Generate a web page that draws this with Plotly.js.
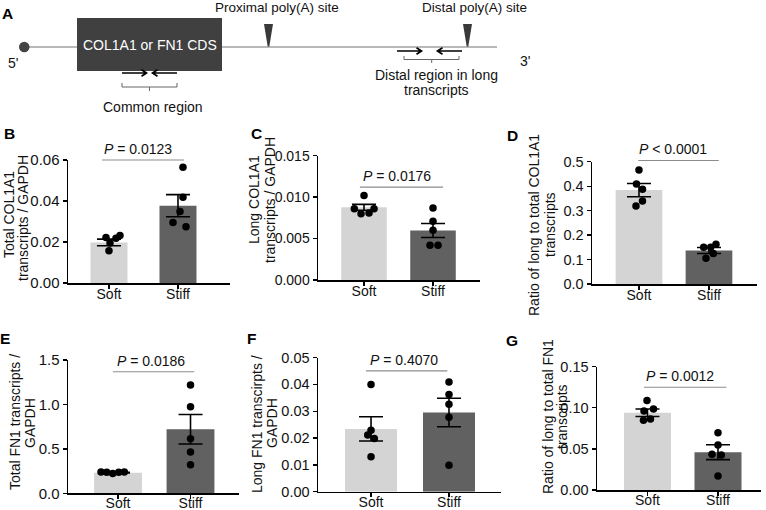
<!DOCTYPE html>
<html><head><meta charset="utf-8">
<script src="https://cdn.plot.ly/plotly-3.0.1.min.js"></script>
<style>html,body{margin:0;padding:0;background:#fff}#chart{width:766px;height:510px}</style>
</head><body><div id="chart"></div>
<script>
// ---------------- data ----------------
const groups = ['Soft', 'Stiff'];

const totalCol1a1Soft  = [0.0222, 0.0218, 0.0232, 0.0195, 0.0157];
const totalCol1a1Stiff = [0.0565, 0.0418, 0.0349, 0.0295, 0.0275];
const totalCol1a1Mean  = [0.0198, 0.0377];
const totalCol1a1Sem   = [0.0016, 0.0054];

const longCol1a1Soft  = [0.0102, 0.0086, 0.0086, 0.0080, 0.0081];
const longCol1a1Stiff = [0.0087, 0.0071, 0.0060, 0.0042, 0.0042];
const longCol1a1Mean  = [0.00877, 0.00597];
const longCol1a1Sem   = [0.00036, 0.00085];

const ratioCol1a1Soft  = [0.466, 0.409, 0.387, 0.339, 0.319];
const ratioCol1a1Stiff = [0.150, 0.150, 0.163, 0.125, 0.105];
const ratioCol1a1Mean  = [0.384, 0.137];
const ratioCol1a1Sem   = [0.027, 0.012];

const totalFn1Soft  = [0.240, 0.238, 0.224, 0.236, 0.240];
const totalFn1Stiff = [1.218, 0.975, 0.615, 0.465, 0.320];
const totalFn1Mean  = [0.232, 0.720];
const totalFn1Sem   = [0.004, 0.166];

const longFn1Soft  = [0.0399, 0.0229, 0.0211, 0.0198, 0.0130];
const longFn1Stiff = [0.0409, 0.0362, 0.0326, 0.0277, 0.0099];
const longFn1Mean  = [0.0234, 0.0295];
const longFn1Sem   = [0.0045, 0.0053];

const ratioFn1Soft  = [0.109, 0.0985, 0.096, 0.085, 0.0864];
const ratioFn1Stiff = [0.0697, 0.0547, 0.0434, 0.0426, 0.0170];
const ratioFn1Mean  = [0.094, 0.046];
const ratioFn1Sem   = [0.0045, 0.009];

const pValueLabels = ['= 0.0123', '= 0.0176', '< 0.0001', '= 0.0186', '= 0.4070', '= 0.0012'];
const panelLetters = ['B', 'C', 'D', 'E', 'F', 'G'];
const yTicksB = [0, 0.02, 0.04, 0.06];
const yTicksC = [0, 0.005, 0.010, 0.015];
const yTicksD = [0, 0.1, 0.2, 0.3, 0.4, 0.5];
const yTicksE = [0, 0.5, 1.0, 1.5];
const yTicksF = [0, 0.01, 0.02, 0.03, 0.04, 0.05];
const yTicksG = [0, 0.05, 0.10, 0.15];
const yTitlesB = ['Total COL1A1', 'transcripts / GAPDH'];
const yTitlesC = ['Long COL1A1', 'transcripts / GAPDH'];
const yTitlesD = ['Ratio of long to total COL1A1', 'transcripts'];
const yTitlesE = ['Total FN1 transcripts /', 'GAPDH'];
const yTitlesF = ['Long FN1 transcirpts /', 'GAPDH'];
const yTitlesG = ['Ratio of long to total FN1', 'transcripts'];

// ---------------- layout / style ----------------
const W = 766, H = 510;
const fx = x => x / W, fy = y => 1 - y / H;
const FONT = '"Liberation Sans", Arial, Helvetica, sans-serif';
const TXT = '#111';
const softColor = '#d4d4d4', stiffColor = '#616161', darkShape = '#404040';

const panels = [
  {soft: totalCol1a1Soft, stiff: totalCol1a1Stiff, mean: totalCol1a1Mean, sem: totalCol1a1Sem, ticks: yTicksB, titles: yTitlesB,
   box: [68, 230, 160, 283], xr: [-0.594, 1.754], bw: 0.536, ymax: 0.06, fmt: '.2f', tf: 15, so: -6,
   tpos: [[9, 215], [23, 218]], letter: [9, 133.5],
   jS: [-3, 7, 11, 1, 0], jT: [5, 5, 2, -5, 8], pl: [-0.1, 1.087, 0.06], ptx: 0.42},
  {soft: longCol1a1Soft, stiff: longCol1a1Stiff, mean: longCol1a1Mean, sem: longCol1a1Sem, ticks: yTicksC, titles: yTitlesC,
   box: [318, 480, 155.7, 280], xr: [-0.667, 1.681], bw: 0.66, ymax: 0.015, fmt: '.3f', tf: 14, so: -6,
   tpos: [[254, 200], [270, 200]], letter: [256, 133.5],
   jS: [0, -9.7, 10, -3, 5], jT: [0, 0, 0, -3, 5], pl: [-0.06, 1.145, 0.0112], ptx: 0.474},
  {soft: ratioCol1a1Soft, stiff: ratioCol1a1Stiff, mean: ratioCol1a1Mean, sem: ratioCol1a1Sem, ticks: yTicksD, titles: yTitlesD,
   box: [592, 757, 161.7, 284], xr: [-0.671, 1.686], bw: 0.667, ymax: 0.5, fmt: '.1f', tf: 14.5, so: -6,
   tpos: [[534, 225], [550, 225]], letter: [512.5, 136],
   jS: [0, -2.5, 3.5, 3.5, -3], jT: [-5.3, 1.7, 7, 4.3, -3], pl: [-0.01, 1.14, 0.505], ptx: 0.486},
  {soft: totalFn1Soft, stiff: totalFn1Stiff, mean: totalFn1Mean, sem: totalFn1Sem, ticks: yTicksE, titles: yTitlesE,
   box: [68, 239, 360, 493.3], xr: [-0.69, 1.669], bw: 0.66, ymax: 1.5, fmt: '.1f', tf: 15, so: -8,
   tpos: [[15, 422], [30, 423]], letter: [5, 338],
   jS: [-17, -11.3, -5.3, 0.7, 6.3], jT: [0, 0, 0, 0, 0], pl: [-0.07, 1.05, 1.368], ptx: 0.45},
  {soft: longFn1Soft, stiff: longFn1Stiff, mean: longFn1Mean, sem: longFn1Sem, ticks: yTicksF, titles: yTitlesF,
   box: [318, 501, 357.5, 491.7], xr: [-0.68, 1.667], bw: 0.667, ymax: 0.05, fmt: '.2f', tf: 14.5, so: -7,
   tpos: [[257, 424], [272, 423]], letter: [252, 338],
   jS: [0, 0, -3.3, 3.3, 0], jT: [0, 0, 0, 0, 0], pl: [-0.064, 0.978, 0.045], ptx: 0.427},
  {soft: ratioFn1Soft, stiff: ratioFn1Stiff, mean: ratioFn1Mean, sem: ratioFn1Sem, ticks: yTicksG, titles: yTitlesG,
   box: [597, 761, 366.7, 490], xr: [-0.716, 1.61], bw: 0.667, ymax: 0.15, fmt: '.2f', tf: 14.5, so: -7,
   tpos: [[548, 417], [562, 417]], letter: [511.5, 340],
   jS: [-0.5, 6, -3.5, -4, 3], jT: [0, 0, -6, 3.3, 0], pl: [-0.05, 1.12, 0.125], ptx: 0.46}
];

const traces = [];
const layout = {
  width: W, height: H, margin: {l: 0, r: 0, t: 0, b: 0},
  paper_bgcolor: '#fff', plot_bgcolor: 'rgba(0,0,0,0)',
  showlegend: false, font: {family: FONT, size: 13.5, color: TXT},
  shapes: [], annotations: []
};

function ann(text, x, y, opts) {
  layout.annotations.push(Object.assign({
    text: text, x: fx(x), y: fy(y), xref: 'paper', yref: 'paper',
    xanchor: 'center', yanchor: 'middle', showarrow: false,
    font: {family: FONT, size: 13.5, color: TXT}
  }, opts || {}));
}

panels.forEach((p, i) => {
  const n = i + 1, sfx = n === 1 ? '' : String(n);
  const xid = 'x' + sfx, yid = 'y' + sfx;
  const unit = (p.box[1] - p.box[0]) / (p.xr[1] - p.xr[0]);
  layout['xaxis' + sfx] = {
    domain: [fx(p.box[0]), fx(p.box[1])], range: p.xr, anchor: yid,
    tickvals: [0, 1], ticktext: groups, showline: true, linecolor: '#000', linewidth: 1.5,
    ticks: 'outside', ticklen: 4, tickwidth: 1.3, tickcolor: '#000', ticklabelstandoff: p.so,
    showgrid: false, zeroline: false, fixedrange: true,
    tickfont: {family: FONT, size: 14, color: TXT}
  };
  layout['yaxis' + sfx] = {
    domain: [fy(p.box[3]), fy(p.box[2])], range: [0, p.ymax], anchor: xid,
    tickvals: p.ticks, tickformat: p.fmt, showline: true, linecolor: '#000', linewidth: 1.5,
    ticks: 'outside', ticklen: 4, tickwidth: 1.3, tickcolor: '#000',
    showgrid: false, zeroline: false, fixedrange: true,
    tickfont: {family: FONT, size: p.tf, color: TXT}
  };
  traces.push({
    type: 'bar', x: [0, 1], y: p.mean, width: p.bw, xaxis: xid, yaxis: yid,
    marker: {color: [softColor, stiffColor], line: {width: 0}},
    error_y: {type: 'data', array: p.sem, visible: true, color: '#000', thickness: 1.6, width: 12}
  });
  [[p.soft, p.jS, 0], [p.stiff, p.jT, 1]].forEach(([vals, jit, c]) => {
    traces.push({
      type: 'scatter', mode: 'markers', xaxis: xid, yaxis: yid,
      x: vals.map((v, k) => c + jit[k] / unit), y: vals,
      marker: {color: '#000', size: 7.5}
    });
  });
  // significance line + label (domain refs so nothing is clipped)
  const dx = c => (c - p.xr[0]) / (p.xr[1] - p.xr[0]);
  const dy = v => v / p.ymax;
  layout.shapes.push({type: 'line', xref: xid + ' domain', yref: yid + ' domain',
    x0: dx(p.pl[0]), x1: dx(p.pl[1]), y0: dy(p.pl[2]), y1: dy(p.pl[2]),
    line: {color: '#8c8c8c', width: 1.2}});
  layout.annotations.push({text: '<i>P</i> ' + pValueLabels[i].replace('<', '&lt;'),
    xref: xid + ' domain', yref: yid + ' domain', x: dx(p.ptx), y: dy(p.pl[2]),
    xanchor: 'center', yanchor: 'bottom', yshift: 1, showarrow: false,
    font: {family: FONT, size: 14, color: TXT}});
  // y titles (each line its own rotated annotation)
  p.titles.forEach((t, k) => ann(t, p.tpos[k][0], p.tpos[k][1], {textangle: -90, font: {family: FONT, size: 14, color: TXT}}));
  ann('<b>' + panelLetters[i] + '</b>', p.letter[0], p.letter[1], {font: {family: FONT, size: 15.5, color: '#000'}});
});

// ---------------- panel A schematic ----------------
const pt = (x, y) => fx(x).toFixed(5) + ',' + fy(y).toFixed(5);
function pathShape(pts, opts) {
  let d = '';
  pts.forEach(seg => { d += 'M' + seg.map(q => pt(q[0], q[1])).join('L'); });
  return Object.assign({type: 'path', xref: 'paper', yref: 'paper', path: d}, opts);
}
function tri(cx) {
  return {type: 'path', xref: 'paper', yref: 'paper',
    path: 'M' + pt(cx - 4.5, 24) + 'L' + pt(cx + 4.5, 24) + 'L' + pt(cx + 0.8, 46.5) + 'L' + pt(cx - 0.8, 46.5) + 'Z',
    fillcolor: '#3a3a3a', line: {width: 0}};
}
const S = layout.shapes;
S.push({type: 'line', xref: 'paper', yref: 'paper', x0: fx(24), x1: fx(497), y0: fy(47), y1: fy(47), line: {color: '#b9b9b9', width: 2}});
S.push({type: 'circle', xref: 'paper', yref: 'paper', x0: fx(19), x1: fx(29.5), y0: fy(52.2), y1: fy(41.8), fillcolor: '#444', line: {width: 0}});
S.push({type: 'rect', xref: 'paper', yref: 'paper', x0: fx(77), x1: fx(222), y0: fy(71), y1: fy(18), fillcolor: darkShape, line: {width: 0}});
S.push(tri(268.5));
S.push(tri(467.5));
const arrowStyle = {line: {color: '#000', width: 1.7}};
S.push(pathShape([[[122, 73], [146, 73]], [[141.5, 69.8], [146.5, 73], [141.5, 76.2]]], arrowStyle));
S.push(pathShape([[[177, 73], [153, 73]], [[157.5, 69.8], [152.5, 73], [157.5, 76.2]]], arrowStyle));
S.push(pathShape([[[397, 51], [421, 51]], [[416.5, 47.8], [421.5, 51], [416.5, 54.2]]], arrowStyle));
S.push(pathShape([[[462, 51], [438, 51]], [[442.5, 47.8], [437.5, 51], [442.5, 54.2]]], arrowStyle));
const bracketStyle = {line: {color: '#666', width: 1}};
S.push(pathShape([[[122, 83], [122, 87], [177, 87], [177, 83]], [[149.5, 87], [149.5, 91]]], bracketStyle));
S.push(pathShape([[[404, 56], [404, 59.5], [459, 59.5], [459, 56]], [[431.7, 59.5], [431.7, 63]]], bracketStyle));

ann('<b>A</b>', 7.5, 13, {font: {family: FONT, size: 15.5, color: '#000'}});
ann('COL1A1 or FN1 CDS', 149.5, 45, {font: {family: FONT, size: 14, color: '#fff'}});
ann("5'", 13, 63, {font: {family: FONT, size: 14, color: TXT}});
ann("3'", 525, 61, {font: {family: FONT, size: 14, color: TXT}});
ann('Proximal poly(A) site', 277, 8);
ann('Distal poly(A) site', 474.5, 7.5);
ann('Common region', 153, 106.5, {font: {family: FONT, size: 14, color: TXT}});
ann('Distal region in long', 436.7, 75, {font: {family: FONT, size: 14, color: TXT}});
ann('transcripts', 436.5, 90, {font: {family: FONT, size: 14, color: TXT}});

Plotly.newPlot('chart', traces, layout, {staticPlot: true, displayModeBar: false});
</script>
</body></html>
